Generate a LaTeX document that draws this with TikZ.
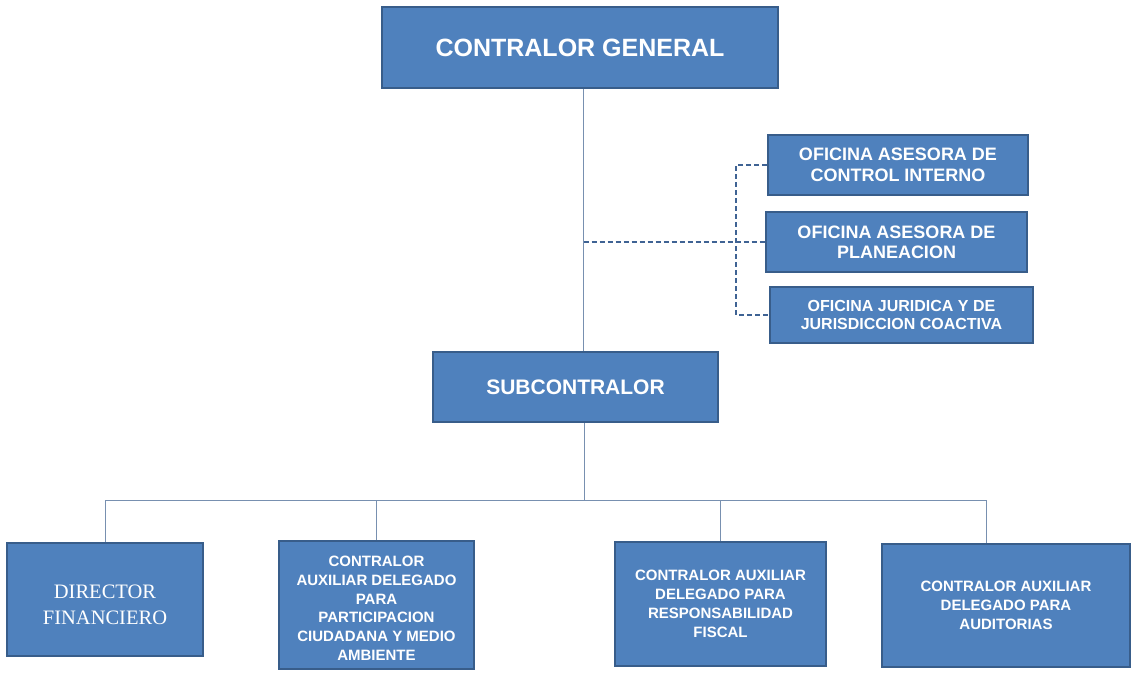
\documentclass[tikz,border=0pt]{standalone}
\usepackage{fontspec}
\setmainfont{Liberation Sans}
\newfontfamily\seriffont{Liberation Serif}
\definecolor{boxfill}{HTML}{4F81BD}
\definecolor{boxline}{HTML}{385D8A}
\definecolor{connline}{HTML}{7890B0}
\definecolor{dashline}{HTML}{3F6394}
\tikzset{
  orgbox/.style={draw=boxline, fill=boxfill, line width=2pt, text=white, align=center, inner sep=0pt, font=\bfseries},
  conn/.style={draw=connline, line width=1pt},
  dashconn/.style={draw=dashline, line width=2pt, dash pattern=on 5pt off 3pt}
}
\begin{document}
\begin{tikzpicture}[x=1pt,y=-1pt]
\useasboundingbox (0,0) rectangle (1133,673);
% boxes
\node[orgbox, minimum width=396pt, minimum height=81pt, font=\bfseries\fontsize{25}{30}\selectfont] (gen) at (580,47.5) {CONTRALOR GENERAL};
\node[orgbox, minimum width=285pt, minimum height=70pt, font=\bfseries\fontsize{21}{25}\selectfont] (sub) at (575.5,387) {SUBCONTRALOR};
\node[orgbox, minimum width=260pt, minimum height=60pt, font=\bfseries\fontsize{18}{21}\selectfont] (ci) at (898,165) {OFICINA ASESORA DE\\CONTROL INTERNO};
\node[orgbox, minimum width=261pt, minimum height=60pt, font=\bfseries\fontsize{18}{20}\selectfont] (pla) at (896.5,242) {OFICINA ASESORA DE\\PLANEACION};
\node[orgbox, minimum width=263pt, minimum height=56pt, font=\bfseries\fontsize{16}{18}\selectfont] (jur) at (901.5,315) {OFICINA JURIDICA Y DE\\JURISDICCION COACTIVA};
\node[orgbox, minimum width=196pt, minimum height=113pt, font=\seriffont\fontsize{20.5}{26}\selectfont] (df) at (105,599.5) {\rule{0pt}{24pt}DIRECTOR\\FINANCIERO};
\node[orgbox, minimum width=195pt, minimum height=128pt, font=\bfseries\fontsize{15}{18.7}\selectfont] (part) at (376.5,605) {\rule{0pt}{17pt}CONTRALOR\\AUXILIAR DELEGADO\\PARA\\PARTICIPACION\\CIUDADANA Y MEDIO\\AMBIENTE};
\node[orgbox, minimum width=211pt, minimum height=124pt, font=\bfseries\fontsize{15}{19}\selectfont] (resp) at (720.5,604) {CONTRALOR AUXILIAR\\DELEGADO PARA\\RESPONSABILIDAD\\FISCAL};
\node[orgbox, minimum width=248pt, minimum height=123pt, font=\bfseries\fontsize{15}{19}\selectfont] (aud) at (1006,605.5) {CONTRALOR AUXILIAR\\DELEGADO PARA\\AUDITORIAS};
% coordinates
\coordinate (tk) at (583.5,0);
\coordinate (bus) at (584.5,500);
\coordinate (bend) at (986,500);
\coordinate (dv) at (736,0);
% solid connectors
\draw[conn] (gen.south -| tk) -- (sub.north -| tk);
\draw[conn] (sub.south -| bus) -- (bus);
\draw[conn] (df.north |- bus) -- (bend);
\draw[conn] (df.north |- bus) -- (df.north);
\draw[conn] (part.north |- bus) -- (part.north);
\draw[conn] (resp.north |- bus) -- (resp.north);
\draw[conn] (bend) -- (bend |- aud.north);
% dashed connectors
\draw[dashconn] (tk |- pla.west) -- (pla.west);
\draw[dashconn] (ci.west) -- (ci.west -| dv) -- (jur.west -| dv) -- (jur.west);
\end{tikzpicture}
\end{document}
